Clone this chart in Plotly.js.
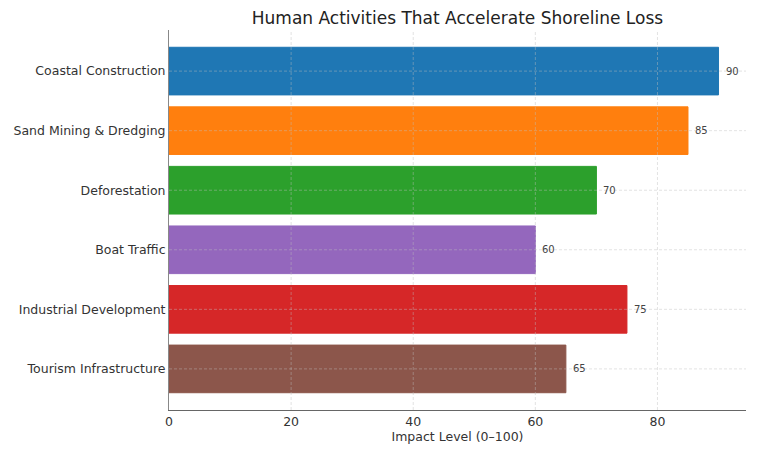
<!DOCTYPE html>
<html><head><meta charset="utf-8">
<script src="https://cdn.plot.ly/plotly-3.0.1.min.js"></script>
<style>html,body{margin:0;padding:0;background:#fff}#chart{width:758px;height:455px}</style>
</head><body><div id="chart"></div>
<script>
const categories = ["Coastal Construction","Sand Mining & Dredging","Deforestation","Boat Traffic","Industrial Development","Tourism Infrastructure"];
const values = [90, 85, 70, 60, 75, 65];
const colors = ["#1f77b4","#ff7f0e","#2ca02c","#9467bd","#d62728","#8c564b"];
const xTicks = [0, 20, 40, 60, 80];

const gridStyle = {color: 'rgba(190,190,190,0.55)', width: 0.8, dash: '3px,2px'};
const trace = {
  type: 'bar', orientation: 'h',
  x: values, y: categories,
  width: 0.8,
  marker: {color: colors, line: {color: colors, width: 1}},
  hoverinfo: 'none'
};
const annotations = values.map((v, i) => ({
  x: v, y: categories[i], xref: 'x', yref: 'y',
  text: String(v), showarrow: false, xanchor: 'left', xshift: 5,
  font: {family: 'DejaVu Sans', size: 10, color: '#444'}
}));
const shapes = [];
xTicks.filter(t => t > 0).forEach(t => shapes.push({type: 'line', layer: 'above', xref: 'x', yref: 'paper', x0: t, x1: t, y0: 0, y1: 1, line: gridStyle}));
categories.forEach(c => shapes.push({type: 'line', layer: 'above', xref: 'paper', yref: 'y', x0: 0, x1: 1, y0: c, y1: c, line: gridStyle}));

const layout = {
  width: 758, height: 455,
  margin: {l: 169, r: 12, t: 30, b: 45},
  paper_bgcolor: '#fff', plot_bgcolor: '#fff',
  font: {family: 'DejaVu Sans', color: '#333'},
  title: {text: 'Human Activities That Accelerate Shoreline Loss', x: 0.6035, xanchor: 'center', y: 0.96, yanchor: 'middle', font: {size: 17, color: '#222'}},
  xaxis: {range: [0, 94.5], tickvals: xTicks, showgrid: false,
          showline: true, linecolor: '#666', linewidth: 1, ticks: '',
          tickfont: {size: 12.5, color: '#333'}, zeroline: false,
          title: {text: 'Impact Level (0–100)', font: {size: 12.5, color: '#333'}, standoff: 2}},
  yaxis: {type: 'category', range: [5.69, -0.69], showgrid: false,
          showline: true, linecolor: '#888', linewidth: 1, ticks: '',
          tickfont: {size: 12.5, color: '#333'}, zeroline: false},
  shapes: shapes,
  annotations: annotations,
  showlegend: false
};
Plotly.newPlot('chart', [trace], layout, {displayModeBar: false, staticPlot: true});
</script></body></html>
